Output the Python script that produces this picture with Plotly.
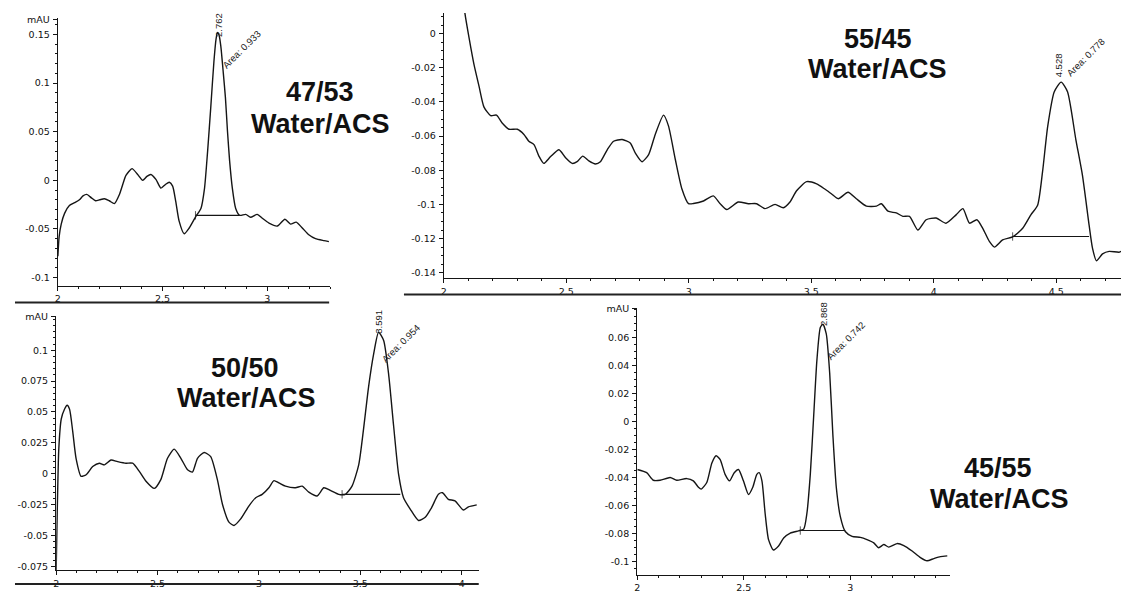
import plotly.graph_objects as go

W, H = 1129, 593
OFF = 8  # page body margin of the written html
FW, FH = W - OFF, H - OFF

# ---------------- data ----------------
# Panel A: 47/53 Water/ACS
a_x = [2.0, 2.006, 2.016, 2.032, 2.055, 2.08, 2.103, 2.12, 2.138, 2.16, 2.18, 2.2, 2.222, 2.245,
       2.27, 2.293, 2.31, 2.325, 2.354, 2.381, 2.405, 2.425, 2.444, 2.468, 2.492, 2.515, 2.532,
       2.548, 2.563, 2.579, 2.603, 2.627, 2.659, 2.683, 2.70, 2.715, 2.73, 2.745, 2.755, 2.762,
       2.77, 2.778, 2.79, 2.80, 2.81, 2.82, 2.833, 2.849, 2.868, 2.897, 2.92, 2.952, 2.976,
       3.008, 3.048, 3.084, 3.111, 3.138, 3.167, 3.198, 3.23, 3.27, 3.294]
a_y = [-0.078, -0.058, -0.045, -0.034, -0.026, -0.023, -0.020, -0.016, -0.0145, -0.018, -0.021,
       -0.020, -0.019, -0.021, -0.024, -0.015, -0.004, 0.005, 0.012, 0.006, 0.0, 0.004, 0.006,
       0.001, -0.008, -0.004, -0.002, -0.006, -0.022, -0.042, -0.055, -0.049, -0.037, -0.029,
       -0.0085, 0.03, 0.075, 0.122, 0.145, 0.152, 0.149, 0.138, 0.11, 0.085, 0.05, 0.02, -0.008,
       -0.029, -0.036, -0.035, -0.038, -0.035, -0.039, -0.044, -0.047, -0.040, -0.045, -0.043,
       -0.049, -0.056, -0.060, -0.062, -0.063]

# Panel B: 55/45 Water/ACS
b_x = [2.08, 2.086, 2.103, 2.123, 2.144, 2.164, 2.191, 2.215, 2.239, 2.266, 2.30, 2.327, 2.347,
       2.368, 2.388, 2.408, 2.436, 2.47, 2.497, 2.524, 2.544, 2.567, 2.592, 2.619, 2.639, 2.667,
       2.693, 2.728, 2.761, 2.782, 2.809, 2.836, 2.863, 2.897, 2.917, 2.945, 2.972, 2.999, 3.019,
       3.06, 3.10, 3.128, 3.155, 3.202, 3.243, 3.277, 3.311, 3.352, 3.386, 3.413, 3.44, 3.481,
       3.522, 3.555, 3.583, 3.61, 3.65, 3.684, 3.725, 3.766, 3.786, 3.813, 3.847, 3.874, 3.901,
       3.935, 3.969, 4.01, 4.05, 4.092, 4.119, 4.146, 4.176, 4.20, 4.227, 4.248, 4.281, 4.322,
       4.363, 4.397, 4.424, 4.444, 4.465, 4.492, 4.52, 4.546, 4.58, 4.607, 4.634, 4.648, 4.664,
       4.689, 4.716, 4.757, 4.784, 4.80]
b_y = [0.02, 0.012, -0.0025, -0.018, -0.031, -0.043, -0.048, -0.0477, -0.0525, -0.056, -0.056,
       -0.059, -0.063, -0.065, -0.0717, -0.076, -0.072, -0.068, -0.0727, -0.076, -0.075, -0.0717,
       -0.0745, -0.0763, -0.075, -0.068, -0.063, -0.062, -0.064, -0.070, -0.075, -0.0708, -0.059,
       -0.0477, -0.054, -0.0737, -0.091, -0.0996, -0.0995, -0.098, -0.095, -0.0996, -0.103,
       -0.0986, -0.0996, -0.0996, -0.1025, -0.100, -0.102, -0.0986, -0.092, -0.0867, -0.088,
       -0.091, -0.0939, -0.0967, -0.0929, -0.0967, -0.101, -0.101, -0.0996, -0.104, -0.105,
       -0.107, -0.107, -0.115, -0.109, -0.108, -0.111, -0.106, -0.1025, -0.111, -0.109, -0.114,
       -0.1217, -0.125, -0.1208, -0.119, -0.114, -0.106, -0.1005, -0.081, -0.0544, -0.034,
       -0.0284, -0.034, -0.062, -0.083, -0.112, -0.1256, -0.133, -0.129, -0.1275, -0.128,
       -0.1265, -0.1265]

# Panel C: 50/50 Water/ACS
c_x = [2.0, 2.005, 2.013, 2.025, 2.041, 2.054, 2.066, 2.082, 2.098, 2.123, 2.148, 2.18, 2.213,
       2.238, 2.27, 2.303, 2.344, 2.377, 2.41, 2.443, 2.484, 2.516, 2.549, 2.582, 2.615, 2.648,
       2.672, 2.697, 2.73, 2.762, 2.795, 2.82, 2.852, 2.877, 2.91, 2.951, 2.984, 3.016, 3.049,
       3.074, 3.098, 3.131, 3.18, 3.213, 3.246, 3.287, 3.32, 3.352, 3.393, 3.426, 3.459, 3.492,
       3.516, 3.541, 3.566, 3.59, 3.615, 3.639, 3.664, 3.689, 3.713, 3.746, 3.787, 3.82, 3.852,
       3.885, 3.905, 3.934, 3.967, 4.008, 4.033, 4.074]
c_y = [-0.078, -0.0326, 0.0204, 0.0443, 0.0522, 0.0554, 0.0522, 0.0337, 0.0125, -0.0021,
       -0.0008, 0.0058, 0.0085, 0.0072, 0.0111, 0.0098, 0.0085, 0.0085, 0.0019, -0.0061,
       -0.0119, -0.0048, 0.0125, 0.0199, 0.0125, 0.0032, 0.0013, 0.0125, 0.0172, 0.0138,
       -0.0048, -0.0247, -0.0392, -0.0419, -0.0366, -0.026, -0.0194, -0.0167, -0.0114, -0.0056,
       -0.0074, -0.0101, -0.0114, -0.0101, -0.0149, -0.018, -0.0114, -0.0135, -0.0167, -0.0167,
       -0.0101, 0.0072, 0.0363, 0.0708, 0.0973, 0.1146, 0.1079, 0.0814, 0.039, -0.0008,
       -0.0194, -0.0286, -0.0379, -0.0353, -0.0273, -0.0167, -0.0154, -0.0207, -0.022, -0.0294,
       -0.0268, -0.0252]

# Panel D: 45/55 Water/ACS
d_x = [2.0, 2.044, 2.075, 2.107, 2.154, 2.185, 2.232, 2.263, 2.287, 2.30, 2.326, 2.35, 2.37,
       2.389, 2.412, 2.433, 2.455, 2.475, 2.498, 2.522, 2.542, 2.561, 2.572, 2.585, 2.60, 2.616,
       2.639, 2.663, 2.687, 2.718, 2.757, 2.781, 2.796, 2.812, 2.828, 2.843, 2.859, 2.871, 2.887,
       2.903, 2.918, 2.934, 2.953, 2.976, 3.008, 3.047, 3.078, 3.11, 3.133, 3.157, 3.18, 3.219,
       3.251, 3.29, 3.329, 3.36, 3.392, 3.423, 3.455]
d_y = [-0.0343, -0.0366, -0.042, -0.042, -0.040, -0.042, -0.0408, -0.0424, -0.047, -0.0483,
       -0.0436, -0.0296, -0.0245, -0.0273, -0.0378, -0.0424, -0.0366, -0.0343, -0.0424, -0.0522,
       -0.047, -0.0378, -0.0366, -0.0424, -0.0657, -0.0844, -0.0918, -0.089, -0.0832, -0.0797,
       -0.0781, -0.0769, -0.0657, -0.0378, 0.0042, 0.0438, 0.0671, 0.0695, 0.0625, 0.0345,
       -0.0098, -0.047, -0.068, -0.0786, -0.082, -0.0828, -0.0844, -0.0867, -0.0902, -0.0879,
       -0.0897, -0.0872, -0.0886, -0.0925, -0.0972, -0.0995, -0.0979, -0.0965, -0.096]

ratios = ["47/53", "55/45", "50/50", "45/55"]
solvent = "Water/ACS"
peak_rt = [2.762, 4.528, 3.591, 2.868]
peak_area = [0.933, 0.778, 0.954, 0.742]
base_start = [2.657, 4.322, 3.41, 2.765]
base_end = [2.867, 4.634, 3.697, 2.976]
base_level = [-0.036, -0.1188, -0.0167, -0.0779]

a_yticks = [-0.1, -0.05, 0, 0.05, 0.1, 0.15]
b_yticks = [-0.14, -0.12, -0.1, -0.08, -0.06, -0.04, -0.02, 0]
c_yticks = [-0.075, -0.05, -0.025, 0, 0.025, 0.05, 0.075, 0.1]
d_yticks = [-0.1, -0.08, -0.06, -0.04, -0.02, 0, 0.02, 0.04, 0.06]
a_xticks = [2, 2.5, 3]
b_xticks = [2, 2.5, 3, 3.5, 4, 4.5]
c_xticks = [2, 2.5, 3, 3.5, 4]
d_xticks = [2, 2.5, 3]

# ---------------- layout geometry (window pixels) ----------------
def hx(p):
    return (p - OFF) / FW

def vy(p):
    return 1 - (p - OFF) / FH

panels = [
    dict(xd=(55, 328), yd=(285, 13), xr=(2, 3.30), yr=(-0.1084, 0.167), mau=0.165, mdy=0.01,
         xs=a_x, ys=a_y, yt=a_yticks, xt=a_xticks,
         rt_off=(1, 8), ar_off=(24, -17), r_pos=(318, 88), s_pos=(318, 121)),
    dict(xd=(442, 1129), yd=(277.3, 8), xr=(2, 4.797), yr=(-0.1432, 0.0121), mau=None, mdy=0.005,
         xs=b_x, ys=b_y, yt=b_yticks, xt=b_xticks,
         rt_off=(-3, 17), ar_off=(24, 25), r_pos=(877, 34), s_pos=(877, 65)),
    dict(xd=(53.3, 477), yd=(574, 316), xr=(2, 4.084), yr=(-0.0782, 0.1275), mau=0.127, mdy=0.005,
         xs=c_x, ys=c_y, yt=c_yticks, xt=c_xticks,
         rt_off=(0, 10), ar_off=(22, -11), r_pos=(243, 369), s_pos=(244, 399)),
    dict(xd=(636, 950), yd=(578.3, 307.3), xr=(2, 3.47), yr=(-0.1093, 0.0812), mau=0.0805, mdy=0.005,
         xs=d_x, ys=d_y, yt=d_yticks, xt=d_xticks,
         rt_off=(0, 10), ar_off=(23, -16), r_pos=(998, 470), s_pos=(999, 502)),
]

INK = "#151515"
TICKFONT = dict(family="DejaVu Sans, Liberation Sans, sans-serif", size=9.5, color="#111")
BIG = dict(family="Liberation Sans, Arial, sans-serif", size=27, color="#111")
SMALL = dict(family="Liberation Sans, Arial, sans-serif", size=9.5, color="#1a1a1a")

fig = go.Figure()
layout = dict(width=FW, height=FH, margin=dict(l=0, r=0, t=0, b=0),
              paper_bgcolor="white", plot_bgcolor="white", showlegend=False)
annotations = []

for i, p in enumerate(panels):
    n = "" if i == 0 else str(i + 1)
    xa, ya = "x" + n, "y" + n
    fig.add_trace(go.Scatter(x=p["xs"], y=p["ys"], xaxis=xa, yaxis=ya, mode="lines",
                             line=dict(color=INK, width=1.4, shape="spline", smoothing=0.6),
                             hoverinfo="skip"))
    # integration baseline
    fig.add_trace(go.Scatter(x=[base_start[i], base_end[i]], y=[base_level[i], base_level[i]],
                             xaxis=xa, yaxis=ya, mode="lines+markers",
                             line=dict(color=INK, width=1.1),
                             marker=dict(symbol=["line-ns-open", "circle"], size=[6, 0],
                                         line=dict(color=INK, width=1)),
                             hoverinfo="skip"))
    tv = list(p["yt"])
    tt = [f"{v:g}" for v in p["yt"]]
    if p["mau"] is not None:
        tv.append(p["mau"])
        tt.append("mAU")
    layout["xaxis" + n] = dict(
        domain=[hx(p["xd"][0]), hx(p["xd"][1])], range=list(p["xr"]), anchor=ya,
        tickmode="array", tickvals=p["xt"], ticktext=[f"{v:g}" for v in p["xt"]],
        ticks="outside", ticklen=4, tickwidth=1, tickcolor=INK,
        showline=True, linecolor=INK, linewidth=1.4, showgrid=False, zeroline=False,
        tickfont=TICKFONT, ticklabelstandoff=0,
        minor=dict(tickmode="linear", tick0=2, dtick=0.1, ticks="outside", ticklen=2,
                   tickcolor=INK, showgrid=False))
    layout["yaxis" + n] = dict(
        domain=[vy(p["yd"][0]), vy(p["yd"][1])], range=list(p["yr"]), anchor=xa,
        tickmode="array", tickvals=tv, ticktext=tt,
        ticks="outside", ticklen=4, tickwidth=1, tickcolor=INK,
        showline=True, linecolor=INK, linewidth=1.4, showgrid=False, zeroline=False,
        tickfont=TICKFONT, ticklabelstandoff=1,
        minor=dict(tickmode="linear", tick0=0, dtick=p["mdy"], ticks="outside", ticklen=2,
                   tickcolor=INK, showgrid=False))

    pairs = [(x, y) for x, y in zip(p["xs"], p["ys"]) if abs(x - peak_rt[i]) < 0.08]
    ax_, ay_ = max(pairs, key=lambda t: t[1])
    annotations.append(dict(x=ax_, y=ay_, xref=xa, yref=ya, text=f"{peak_rt[i]:.3f}",
                            textangle=-90, showarrow=False, xanchor="center", yanchor="middle",
                            xshift=p["rt_off"][0], yshift=p["rt_off"][1], font=SMALL))
    annotations.append(dict(x=ax_, y=ay_, xref=xa, yref=ya, text=f"Area: {peak_area[i]:.3f}",
                            textangle=-45, showarrow=False, xanchor="center", yanchor="middle",
                            xshift=p["ar_off"][0], yshift=p["ar_off"][1], font=SMALL))
    annotations.append(dict(x=hx(p["r_pos"][0]), y=vy(p["r_pos"][1]), xref="paper", yref="paper",
                            text=f"<b>{ratios[i]}</b>", showarrow=False,
                            xanchor="center", yanchor="middle", font=BIG))
    annotations.append(dict(x=hx(p["s_pos"][0]), y=vy(p["s_pos"][1]), xref="paper", yref="paper",
                            text=f"<b>{solvent}</b>", showarrow=False,
                            xanchor="center", yanchor="middle", font=BIG))

# scanned-picture edge lines
edges = [((402, 294), (1129, 294)), ((12, 302), (327, 302)), ((12, 588), (477, 588))]
shapes = [dict(type="line", xref="paper", yref="paper", x0=hx(a[0]), y0=vy(a[1]),
               x1=hx(b[0]), y1=vy(b[1]), line=dict(color="#222", width=2)) for a, b in edges]

layout["annotations"] = annotations
layout["shapes"] = shapes
fig.update_layout(**layout)
fig.write_html("out.html")
